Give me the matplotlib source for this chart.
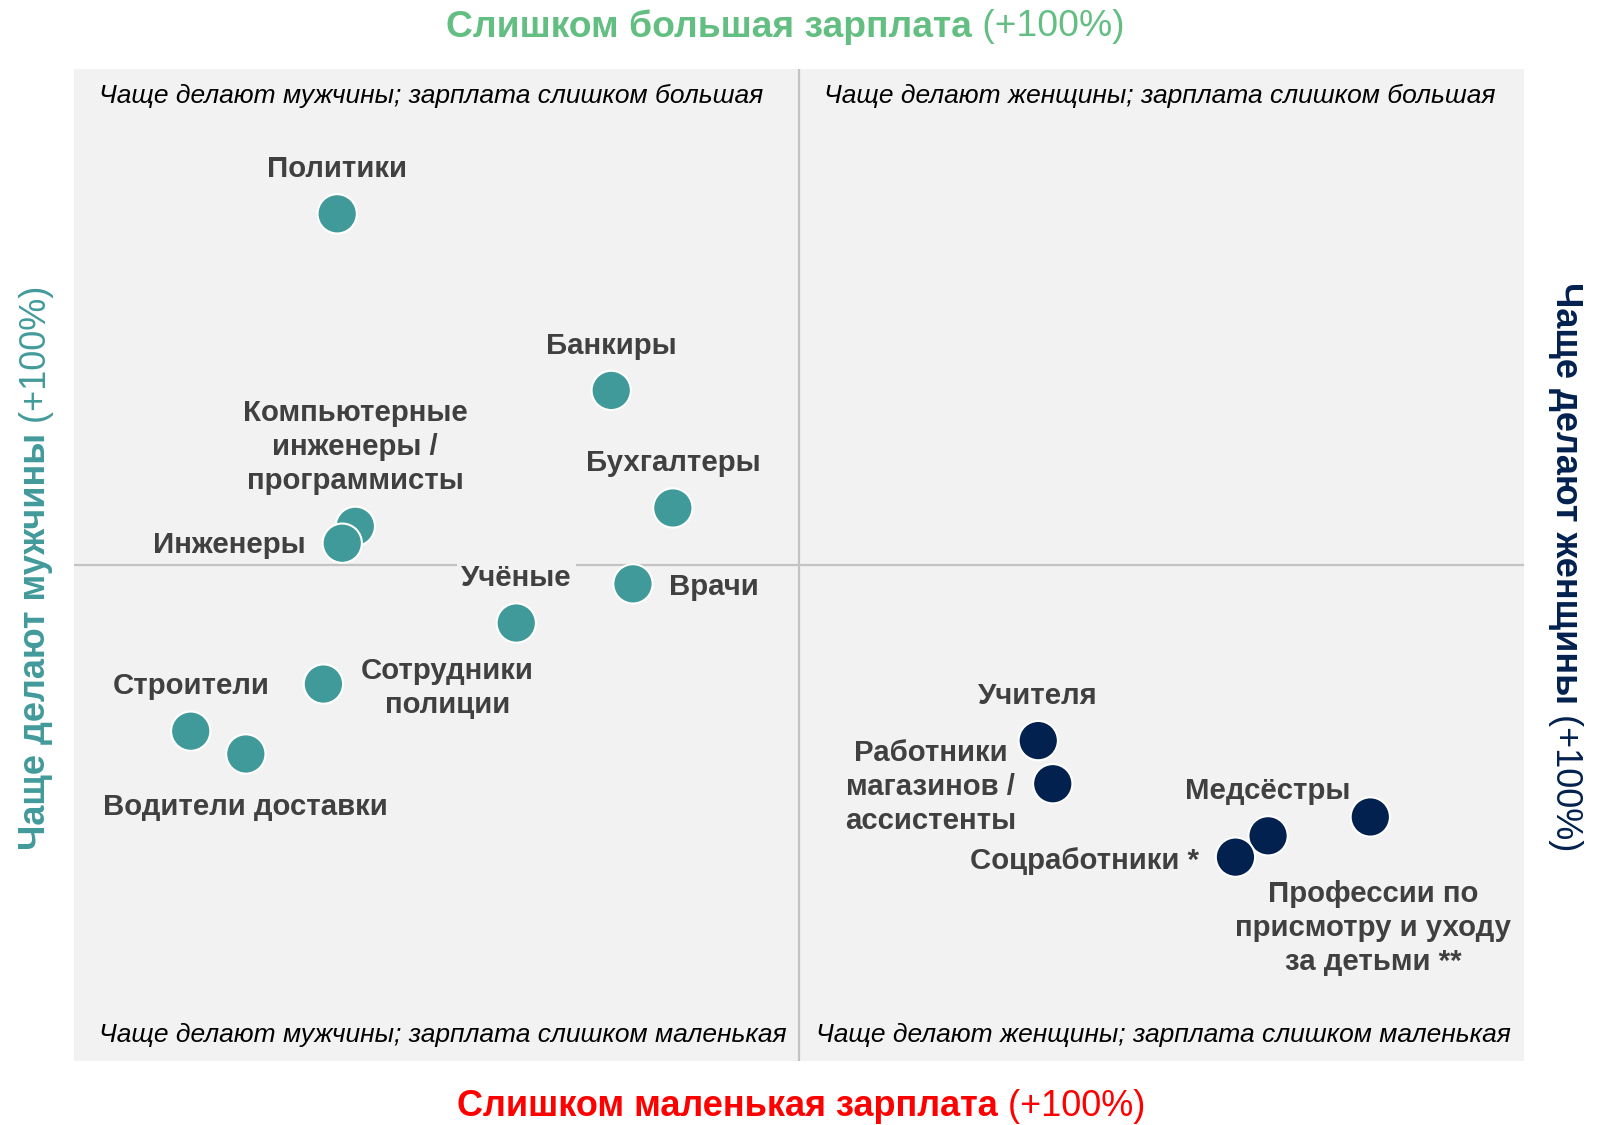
import matplotlib
matplotlib.use('Agg')
import matplotlib.pyplot as plt
from matplotlib import font_manager
from matplotlib.transforms import IdentityTransform

# pick a narrow sans if it is there
try:
    font_manager.findfont('Liberation Sans Narrow', fallback_to_default=False)
    FONT = 'Liberation Sans Narrow'
except Exception:
    FONT = 'Liberation Sans'
plt.rcParams['font.family'] = [FONT, 'DejaVu Sans']

# data: (x = more women / fewer women, y = overpaid / underpaid), -100..100
names = ['Политики', 'Банкиры', 'Бухгалтеры', 'Компьютерные\nинженеры /\nпрограммисты',
         'Инженеры', 'Врачи', 'Учёные', 'Сотрудники\nполиции', 'Строители',
         'Водители доставки', 'Учителя', 'Работники\nмагазинов /\nассистенты',
         'Медсёстры', 'Соцработники *', 'Профессии по\nприсмотру и уходу\nза детьми **']
x_vals = [-63.7, -25.9, -17.4, -61.2, -63.0, -22.9, -39.0, -65.6, -83.9, -76.3,
          33.0, 35.0, 64.7, 60.2, 78.8]
y_vals = [70.8, 35.2, 11.5, 7.8, 4.4, -3.8, -11.7, -24.0, -33.5, -38.1,
          -35.4, -44.1, -54.6, -58.9, -50.8]
group = ['m'] * 10 + ['f'] * 5

# label offsets from the point, in pixels, and alignment
label_dx = [0, 0, 0, 0, -37, 36, 0, 124, 0, 0, 0, -122, 0, -36, 3]
label_dy = [45, 44, 45, 79, -2, -3, 45, -4, 45, -53, 45, -3, 45, -4, -111]
label_ha = ['center', 'center', 'center', 'center', 'right', 'left', 'center', 'center',
            'center', 'center', 'center', 'center', 'center', 'right', 'center']

quadrant_text = ['Чаще делают мужчины; зарплата слишком большая',
                 'Чаще делают женщины; зарплата слишком большая',
                 'Чаще делают мужчины; зарплата слишком маленькая',
                 'Чаще делают женщины; зарплата слишком маленькая']

TEAL = '#419A9A'
NAVY = '#03214F'
GREEN = '#63BE82'
RED = '#FF0000'
GREY = '#404040'
BG = '#F2F2F2'

fig = plt.figure(figsize=(16.06, 11.25), dpi=100)
ax = fig.add_axes([74 / 1606, 64 / 1125, 1450 / 1606, 992 / 1125])
ax.set_facecolor(BG)
ax.set_xlim(-100, 100)
ax.set_ylim(-100, 100)
for s in ax.spines.values():
    s.set_visible(False)
ax.set_xticks([])
ax.set_yticks([])

ax.axhline(0, color='#C3C3C3', lw=1.6, zorder=1)
ax.axvline(0, color='#C3C3C3', lw=1.6, zorder=1)

colors = [TEAL if g == 'm' else NAVY for g in group]
ax.scatter(x_vals, y_vals, s=800, c=colors, edgecolors='white', linewidths=1.5, zorder=3)

for i, name in enumerate(names):
    bbox = None
    if name == 'Учёные':
        bbox = dict(facecolor=BG, edgecolor='none', pad=3)
    ax.annotate(name, (x_vals[i], y_vals[i]), xytext=(label_dx[i], label_dy[i]),
                textcoords='offset pixels', ha=label_ha[i], va='center',
                ma='center', fontsize=21.2, fontweight='bold', color=GREY,
                linespacing=1.27, bbox=bbox, zorder=4)

# quadrant captions
qkw = dict(transform=ax.transAxes, fontsize=19, style='italic', color='black', va='center')
ax.text(0.017, 0.973, quadrant_text[0], ha='left', **qkw)
ax.text(0.517, 0.973, quadrant_text[1], ha='left', **qkw)
ax.text(0.017, 0.026, quadrant_text[2], ha='left', **qkw)
ax.text(0.991, 0.026, quadrant_text[3], ha='right', **qkw)

# two-part axis captions (bold + regular), placed in pixels
fig.canvas.draw()
rend = fig.canvas.get_renderer()


def two_part(xc, yc, bold, normal, color, size, rot=0):
    kw = dict(transform=IdentityTransform(), color=color, fontsize=size, rotation=rot)
    t1 = fig.text(0, 0, bold, fontweight='bold', **kw)
    t2 = fig.text(0, 0, ' ' + normal, **kw)
    e1 = t1.get_window_extent(rend)
    e2 = t2.get_window_extent(rend)
    if rot == 0:
        total = e1.width + e2.width
        x0 = xc - total / 2
        t1.set_position((x0, yc)); t1.set_ha('left'); t1.set_va('center')
        t2.set_position((x0 + e1.width, yc)); t2.set_ha('left'); t2.set_va('center')
    elif rot == 90:
        total = e1.height + e2.height
        y0 = yc - total / 2
        t1.set_position((xc, y0)); t1.set_ha('center'); t1.set_va('bottom')
        t2.set_position((xc, y0 + e1.height)); t2.set_ha('center'); t2.set_va('bottom')
    else:
        total = e1.height + e2.height
        y0 = yc + total / 2
        t1.set_position((xc, y0)); t1.set_ha('center'); t1.set_va('top')
        t2.set_position((xc, y0 - e1.height)); t2.set_ha('center'); t2.set_va('top')


H = 1125
two_part(785, H - 27, 'Слишком большая зарплата', '(+100%)', GREEN, 26.8)
two_part(801, H - 1107, 'Слишком маленькая зарплата', '(+100%)', RED, 26)
two_part(36, H - 568, 'Чаще делают мужчины', '(+100%)', TEAL, 26, rot=90)
two_part(1566, H - 567, 'Чаще делают женщины', '(+100%)', NAVY, 26, rot=270)

fig.savefig('out.png', dpi=100)
